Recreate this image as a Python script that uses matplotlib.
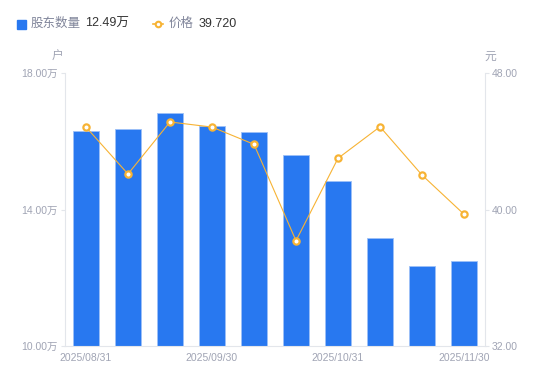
import numpy as np
import matplotlib.pyplot as plt
from matplotlib.lines import Line2D
from matplotlib.patches import Rectangle

plt.rcParams['font.family'] = ['Liberation Sans', 'Noto Sans CJK SC', 'DejaVu Sans']

# data
dates = ['2025/08/31', '2025/09/10', '2025/09/20', '2025/09/30', '2025/10/10',
         '2025/10/20', '2025/10/31', '2025/11/10', '2025/11/20', '2025/11/30']
holders = [16.30, 16.36, 16.83, 16.45, 16.27, 15.60, 14.84, 13.16, 12.34, 12.49]  # 万户
price = [44.83, 42.08, 45.13, 44.83, 43.82, 38.17, 43.00, 44.85, 42.02, 39.72]  # 元
left_ticks = [10, 14, 18]
right_ticks = [32, 40, 48]

blue = '#2878F0'
orange = '#F7B334'
grey_txt = '#A0A4B4'
axis_c = '#E3E6EB'

fig = plt.figure(figsize=(5.5, 3.81), dpi=100)
ax = fig.add_axes([65 / 550, 35 / 381, 420 / 550, 273 / 381])
x = np.arange(len(dates))

ax.bar(x, holders, width=0.6, color=blue, edgecolor='#9DC0F7', linewidth=0.6, zorder=2)
ax.set_ylim(10, 18)
ax.set_xlim(-0.5, len(dates) - 0.5)
ax.set_yticks(left_ticks)
ax.set_yticklabels([f'{v:.2f}万' for v in left_ticks])
ax.set_xticks(x[::3])
ax.set_xticklabels(dates[::3])

ax2 = ax.twinx()
ax2.plot(x, price, color=orange, linewidth=0.8, marker='o', markersize=4.5,
         markerfacecolor='white', markeredgecolor=orange, markeredgewidth=1.6, zorder=3)
ax2.set_ylim(32, 48)
ax2.set_yticks(right_ticks)
ax2.set_yticklabels([f'{v:.2f}' for v in right_ticks])

for a in (ax, ax2):
    for s in a.spines.values():
        s.set_visible(False)
    a.tick_params(colors=axis_c, labelcolor=grey_txt, labelsize=7.5, length=3, width=0.8)
ax.spines['left'].set_visible(True)
ax.spines['left'].set_color(axis_c)
ax.spines['bottom'].set_visible(True)
ax.spines['bottom'].set_color(axis_c)
ax2.spines['right'].set_visible(True)
ax2.spines['right'].set_color(axis_c)
ax.tick_params(axis='x', length=0, pad=5)
ax.tick_params(axis='y', pad=2)
ax2.tick_params(axis='y', pad=2)

# unit labels
fig.text(58 / 550, 1 - 57 / 381, '户', color=grey_txt, fontsize=8.5, ha='center', va='center')
fig.text(490 / 550, 1 - 57 / 381, '元', color=grey_txt, fontsize=8.5, ha='center', va='center')

# legend row
ly = 1 - 24 / 381
fig.patches.append(Rectangle((17 / 550, ly - 4.5 / 381), 9 / 550, 9 / 381,
                             transform=fig.transFigure, color=blue, figure=fig))
fig.text(31 / 550, ly, '股东数量', color='#80859A', fontsize=9, va='center')
fig.text(85 / 550, ly, f'{holders[-1]:.2f}万', color='#333333', fontsize=9, va='center')
fig.lines.append(Line2D([153 / 550, 163 / 550], [ly, ly], transform=fig.transFigure,
                        color=orange, linewidth=1.2))
fig.lines.append(Line2D([158 / 550], [ly], transform=fig.transFigure, color=orange,
                        marker='o', markersize=4, markerfacecolor='white',
                        markeredgecolor=orange, markeredgewidth=1.5))
fig.text(169 / 550, ly, '价格', color='#80859A', fontsize=9, va='center')
fig.text(199 / 550, ly, f'{price[-1]:.3f}', color='#333333', fontsize=9, va='center')

fig.savefig('out.png', dpi=100)
